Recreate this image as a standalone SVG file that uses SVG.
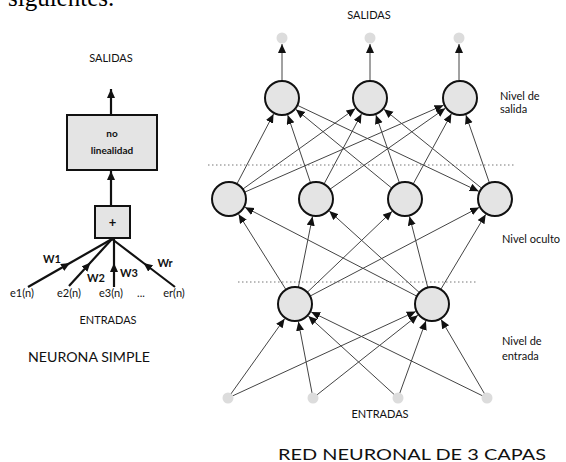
<svg xmlns="http://www.w3.org/2000/svg" width="566" height="462" viewBox="0 0 566 462">
<style>
text{font-family:Lato,"Open Sans","Liberation Sans",sans-serif;fill:#111}
.t{font-size:11px}
.b{font-size:10px;font-weight:bold}
.thick{stroke:#111;stroke-width:2.2;fill:none}
.cn{stroke:#444;stroke-width:1;fill:none;marker-end:url(#ah)}
.node{fill:#e4e4e4;stroke:#111;stroke-width:2}
.dot{fill:#dcdcdc}
.dash{stroke:#777;stroke-width:1;stroke-dasharray:1.5 2.5;fill:none}
</style>
<defs>
<marker id="ah" markerUnits="userSpaceOnUse" markerWidth="12" markerHeight="10" refX="9" refY="4" orient="auto"><path d="M0,0 L9,4 L0,8 z" fill="#111"/></marker>
<marker id="ahb" markerUnits="userSpaceOnUse" markerWidth="12" markerHeight="10" refX="9" refY="4" orient="auto"><path d="M0,0 L9,4 L0,8 z" fill="#111"/></marker>
</defs>
<text x="8" y="6" style="font-family:'Liberation Serif',serif;font-size:25px;fill:#000">siguientes.</text>

<!-- Simple neuron -->
<g id="salidas-left"><text class="t" x="111" y="62" text-anchor="middle">SALIDAS</text></g>
<g id="nolinealidad"><rect x="67" y="115" width="90" height="55" fill="#e4e4e4" stroke="#111" stroke-width="2"/>
<text class="b" x="112" y="137" text-anchor="middle">no</text>
<text class="b" x="112" y="154" text-anchor="middle">linealidad</text></g>
<g id="suma"><rect x="95" y="206" width="35" height="32" fill="#e4e4e4" stroke="#111" stroke-width="2"/>
<text x="112.5" y="227" text-anchor="middle" style="font-size:13px;font-weight:bold">+</text></g>
<g id="entradas-left">
<text class="t" x="22" y="297" text-anchor="middle">e1(n)</text>
<text class="t" x="69" y="297" text-anchor="middle">e2(n)</text>
<text class="t" x="111" y="297" text-anchor="middle">e3(n)</text>
<text class="t" x="141" y="297" text-anchor="middle">...</text>
<text class="t" x="174" y="297" text-anchor="middle">er(n)</text>
<text class="t" x="108" y="324" text-anchor="middle">ENTRADAS</text>
<text class="t" x="52" y="263" text-anchor="middle" font-weight="bold">W1</text>
<text class="t" x="96" y="282" text-anchor="middle" font-weight="bold">W2</text>
<text class="t" x="129" y="277" text-anchor="middle" font-weight="bold">W3</text>
<text class="t" x="165" y="267" text-anchor="middle" font-weight="bold">Wr</text>
</g>
<g id="titulo-left"><text x="89" y="362" text-anchor="middle" style="font-size:13px" textLength="122" lengthAdjust="spacingAndGlyphs">NEURONA SIMPLE</text></g>
<g id="connectors-left">
<line class="thick" x1="111" y1="115" x2="111" y2="89" marker-end="url(#ahb)"/>
<line class="thick" x1="111" y1="206" x2="111" y2="171" marker-end="url(#ahb)"/>
<polyline class="thick" points="28,287 70,263 112,239" marker-mid="url(#ahb)"/>
<polyline class="thick" points="69,286 90.5,262.5 112,239" marker-mid="url(#ahb)"/>
<polyline class="thick" points="114,287 114,263 114,239" marker-mid="url(#ahb)"/>
<polyline class="thick" points="175,287 143.5,263 112,239" marker-mid="url(#ahb)"/>
</g>

<!-- 3-layer network -->
<g id="labels-right">
<text class="t" x="369" y="19" text-anchor="middle">SALIDAS</text>
<text class="t" x="500" y="100">Nivel de</text>
<text class="t" x="500" y="113">salida</text>
<text class="t" x="502" y="243">Nivel oculto</text>
<text class="t" x="502" y="345">Nivel de</text>
<text class="t" x="502" y="360">entrada</text>
<text class="t" x="380" y="418" text-anchor="middle">ENTRADAS</text>
<text x="412" y="460" text-anchor="middle" style="font-size:15px" textLength="268" lengthAdjust="spacingAndGlyphs">RED NEURONAL DE 3 CAPAS</text>
</g>
<g id="divisores">
<line class="dash" x1="208" y1="165" x2="515" y2="165"/>
<line class="dash" x1="238" y1="282" x2="478" y2="282"/>
</g>
<g id="connectors">
<line class="cn" x1="228" y1="398" x2="284.6" y2="318.7"/>
<line class="cn" x1="313" y1="398" x2="298.4" y2="321.7"/>
<line class="cn" x1="398" y1="398" x2="308.3" y2="316.1"/>
<line class="cn" x1="487" y1="398" x2="311.2" y2="311.9"/>
<line class="cn" x1="228" y1="398" x2="415.7" y2="311.5"/>
<line class="cn" x1="313" y1="398" x2="417.9" y2="315.2"/>
<line class="cn" x1="398" y1="398" x2="425.9" y2="320.9"/>
<line class="cn" x1="487" y1="398" x2="441.1" y2="319.5"/>

<line class="cn" x1="295" y1="304" x2="238.6" y2="214.2"/>
<line class="cn" x1="295" y1="304" x2="312.5" y2="216.6"/>
<line class="cn" x1="295" y1="304" x2="392.0" y2="211.4"/>
<line class="cn" x1="295" y1="304" x2="479.1" y2="207.4"/>
<line class="cn" x1="432" y1="304" x2="245.0" y2="207.3"/>
<line class="cn" x1="432" y1="304" x2="329.3" y2="211.1"/>
<line class="cn" x1="432" y1="304" x2="409.5" y2="216.4"/>
<line class="cn" x1="432" y1="304" x2="485.7" y2="214.4"/>

<line class="cn" x1="229" y1="199" x2="273.6" y2="113.9"/>
<line class="cn" x1="316" y1="199" x2="287.7" y2="115.1"/>
<line class="cn" x1="405" y1="199" x2="295.9" y2="109.4"/>
<line class="cn" x1="282" y1="98" x2="478.7" y2="191.3"/>
<line class="cn" x1="229" y1="199" x2="355.4" y2="108.5"/>
<line class="cn" x1="316" y1="199" x2="361.5" y2="113.9"/>
<line class="cn" x1="405" y1="199" x2="375.9" y2="115.0"/>
<line class="cn" x1="495" y1="199" x2="384.0" y2="109.3"/>
<line class="cn" x1="229" y1="199" x2="443.5" y2="105.2"/>
<line class="cn" x1="316" y1="199" x2="445.3" y2="108.3"/>
<line class="cn" x1="405" y1="199" x2="451.4" y2="113.8"/>
<line class="cn" x1="495" y1="199" x2="465.9" y2="115.0"/>

<line class="cn" x1="282" y1="80" x2="282" y2="44"/>
<line class="cn" x1="370" y1="80" x2="370" y2="44"/>
<line class="cn" x1="459" y1="80" x2="459" y2="44"/>
</g>

<g id="in1"><circle class="dot" cx="228" cy="398" r="5.5"/></g>
<g id="in2"><circle class="dot" cx="313" cy="398" r="5.5"/></g>
<g id="in3"><circle class="dot" cx="398" cy="398" r="5.5"/></g>
<g id="in4"><circle class="dot" cx="487" cy="398" r="5.5"/></g>
<g id="i1"><circle class="node" cx="295" cy="304" r="17"/></g>
<g id="i2"><circle class="node" cx="432" cy="304" r="17"/></g>
<g id="h1"><circle class="node" cx="229" cy="199" r="17"/></g>
<g id="h2"><circle class="node" cx="316" cy="199" r="17"/></g>
<g id="h3"><circle class="node" cx="405" cy="199" r="17"/></g>
<g id="h4"><circle class="node" cx="495" cy="199" r="17"/></g>
<g id="o1"><circle class="node" cx="282" cy="98" r="17"/></g>
<g id="o2"><circle class="node" cx="370" cy="98" r="17"/></g>
<g id="o3"><circle class="node" cx="460" cy="98" r="17"/></g>
<g id="out1"><circle class="dot" cx="282" cy="38" r="5.5"/></g>
<g id="out2"><circle class="dot" cx="370" cy="38" r="5.5"/></g>
<g id="out3"><circle class="dot" cx="459" cy="38" r="5.5"/></g>
</svg>
